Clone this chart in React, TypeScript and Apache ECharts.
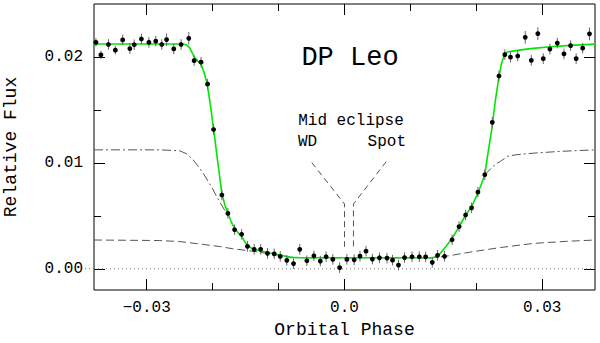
import React, { useEffect, useRef } from "react";
import * as echarts from "echarts";

// Observed light curve (orbital phase, relative flux, 1-sigma error)
const phase = [
  -0.03771, -0.03695, -0.03581, -0.03476, -0.03365, -0.03256, -0.0319, -0.03081, -0.02967, -0.02863,
  -0.02772, -0.02699, -0.0259, -0.02479, -0.02362, -0.02281, -0.02176, -0.02077, -0.01986, -0.0186,
  -0.01769, -0.01667, -0.0156, -0.01472, -0.0137, -0.01272, -0.01168, -0.01066, -0.00975, -0.00875,
  -0.00773, -0.00679, -0.00571, -0.00464, -0.00367, -0.00279, -0.00177, -0.00074, 0.00036, 0.00147,
  0.00235, 0.00326, 0.00423, 0.0053, 0.00645, 0.00729, 0.00819, 0.00911, 0.01025, 0.01135,
  0.01231, 0.01332, 0.01412, 0.01518, 0.01632, 0.01738, 0.01837, 0.01928, 0.02024, 0.02128,
  0.02242, 0.02343, 0.02432, 0.02518, 0.02628, 0.02742, 0.02834, 0.02933, 0.03015, 0.03116,
  0.03228, 0.03329, 0.0343, 0.03514, 0.03613, 0.03716,
];
const flux = [
  0.02138, 0.02019, 0.02118, 0.02064, 0.02161, 0.02079, 0.02115, 0.0217, 0.02137, 0.02149,
  0.02118, 0.02164, 0.02076, 0.02118, 0.02176, 0.01965, 0.01951, 0.01743, 0.01315, 0.00697,
  0.00524, 0.00369, 0.00326, 0.00212, 0.00184, 0.00184, 0.00146, 0.00141, 0.00117, 0.0008,
  0.00049, 0.00184, 0.00076, 0.00123, 0.00073, 0.00114, 0.00089, 0.00011, 0.00089, 0.00085,
  0.0012, 0.00167, 0.00092, 0.00104, 0.00101, 0.00082, 0.00035, 0.00106, 0.00114, 0.00114,
  0.00113, 0.00061, 0.00127, 0.00118, 0.00274, 0.00399, 0.00508, 0.00576, 0.00724, 0.00888,
  0.01383, 0.0182, 0.02022, 0.01998, 0.02009, 0.02185, 0.01968, 0.0222, 0.01984, 0.02074,
  0.02131, 0.02029, 0.02107, 0.01984, 0.02083, 0.02218,
];
const fluxErr = [
  0.0004, 0.0004, 0.0005, 0.0004, 0.0005, 0.0005, 0.0005, 0.0005, 0.0005, 0.0005,
  0.0005, 0.0006, 0.0005, 0.0005, 0.0006, 0.0005, 0.0005, 0.0005, 0.0005, 0.0005,
  0.0005, 0.0005, 0.0005, 0.0005, 0.0005, 0.0005, 0.0005, 0.0005, 0.0005, 0.0005,
  0.0005, 0.0005, 0.0005, 0.0005, 0.0005, 0.0005, 0.0005, 0.0005, 0.0005, 0.0005,
  0.0005, 0.0005, 0.0005, 0.0005, 0.0005, 0.0005, 0.0005, 0.0005, 0.0005, 0.0005,
  0.0005, 0.0005, 0.0005, 0.0005, 0.0005, 0.0005, 0.0005, 0.0005, 0.0005, 0.0005,
  0.0005, 0.0005, 0.0005, 0.0005, 0.0005, 0.0006, 0.0005, 0.0006, 0.0005, 0.0005,
  0.0005, 0.0005, 0.0005, 0.0005, 0.0005, 0.0006,
];

// Total model light curve (green)
const modelPhase = [
  -0.038, -0.02453, -0.02392, -0.02346, -0.02281, -0.02225, -0.02175, -0.02134, -0.02083, -0.02035,
  -0.01982, -0.01921, -0.0186, -0.01814, -0.01769, -0.01723, -0.01673, -0.01617, -0.0156, -0.0151,
  -0.01465, -0.01374, -0.01252, -0.0113, -0.00978, -0.00826, -0.00674, 0.01332, 0.01393, 0.01454,
  0.01545, 0.01632, 0.01738, 0.01839, 0.0193, 0.02027, 0.02077, 0.02128, 0.02184, 0.0224,
  0.0229, 0.02343, 0.02381, 0.02427, 0.02473, 0.02594, 0.02822, 0.03126, 0.0343, 0.038,
];
const modelFlux = [
  0.02123, 0.02123, 0.02112, 0.02083, 0.02003, 0.0196, 0.01932, 0.01861, 0.01747, 0.01549,
  0.01303, 0.01, 0.00707, 0.00603, 0.00524, 0.00451, 0.00385, 0.00342, 0.00309, 0.00253,
  0.00215, 0.00182, 0.00165, 0.00149, 0.0013, 0.00108, 0.00104, 0.00104, 0.00115, 0.00146,
  0.00215, 0.00286, 0.00397, 0.00508, 0.00588, 0.00721, 0.00801, 0.00889, 0.01123, 0.01341,
  0.01596, 0.01814, 0.01937, 0.02026, 0.02047, 0.0206, 0.02079, 0.02097, 0.02109, 0.02121,
];

// White-dwarf component (dash-dot), visible ingress and egress parts
const wdPhase = [
  -0.038, -0.02803, -0.0262, -0.02498, -0.02392, -0.02296, -0.02225, -0.02144, -0.02073, -0.01992,
  -0.01928, -0.01865, -0.01789, null,
  0.02128, 0.02184, 0.02245, 0.02316, 0.02366, 0.02468, 0.02594, 0.02868, 0.03278, 0.038,
];
const wdFlux = [
  0.01123, 0.01123, 0.01118, 0.01114, 0.01085, 0.01028, 0.00972, 0.00903, 0.0083, 0.00745,
  0.00669, 0.00603, 0.00524, null,
  0.00886, 0.00924, 0.00962, 0.00997, 0.01014, 0.01061, 0.01076, 0.01092, 0.01109, 0.01123,
];

// Accretion spot component (dashed)
const spotPhase = [
  -0.038, -0.02803, -0.02498, -0.02194, -0.0189, -0.01693, -0.01465, -0.01252, -0.01054, -0.00826,
  -0.00598, 0.01332, 0.01556, 0.0191, 0.02366, 0.02868, 0.03354, 0.038,
];
const spotFlux = [
  0.00272, 0.00267, 0.00257, 0.00234, 0.0021, 0.00189, 0.00172, 0.00153, 0.00134, 0.00111,
  0.00104, 0.00104, 0.0012, 0.00158, 0.00201, 0.0024, 0.00259, 0.00272,
];

// Mid-eclipse markers
const wdMarkPhase = [-0.00496, 0.0, 0.0];
const wdMarkFlux = [0.01003, 0.00612, 0.00208];
const spotMarkPhase = [0.00633, 0.00136, 0.00136];
const spotMarkFlux = [0.01012, 0.00612, 0.00208];

// Axes
const xMin = -0.038;
const xMax = 0.038;
const yMin = -0.002;
const yMax = 0.025;
const xMajorTicks = [-0.03, 0.0, 0.03];
const xMinorTicks = [-0.02, -0.01, 0.01, 0.02];
const yMajorTicks = [0.0, 0.01, 0.02];
const yMinorTicks = [0.005, 0.015];

const FONT = "'Liberation Mono', 'DejaVu Sans Mono', monospace";

function zip(a: (number | null)[], b: (number | null)[]) {
  return a.map((v, i) => (v === null || b[i] === null ? [null, null] : [v, b[i]]));
}

function fmtX(v: number) {
  if (Math.abs(v) < 1e-9) return "0.0";
  const s = Math.abs(v).toFixed(2);
  return v < 0 ? "\u2212" + s : s;
}

export default function App() {
  const ref = useRef<HTMLDivElement>(null);
  useEffect(() => {
    if (!ref.current) return;
    const chart = echarts.init(ref.current, null, { renderer: "svg" });

    const tickStyle = { color: "#000", width: 1 };
    const mkX = (position: string, ticks: number[], len: number, labels: boolean, extra: any = {}) => ({
      type: "value",
      min: xMin,
      max: xMax,
      position,
      axisLine: { show: false, onZero: false },
      splitLine: { show: false },
      axisTick: { show: true, inside: true, length: len, customValues: ticks, lineStyle: tickStyle },
      axisLabel: labels
        ? { show: true, customValues: ticks, formatter: fmtX, fontFamily: FONT, fontSize: 16, color: "#000", margin: 10 }
        : { show: false },
      ...extra,
    });
    const mkY = (position: string, ticks: number[], len: number, labels: boolean, extra: any = {}) => ({
      type: "value",
      min: yMin,
      max: yMax,
      position,
      axisLine: { show: false, onZero: false },
      splitLine: { show: false },
      axisTick: { show: true, inside: true, length: len, customValues: ticks, lineStyle: tickStyle },
      axisLabel: labels
        ? {
            show: true,
            customValues: ticks,
            formatter: (v: number) => v.toFixed(2),
            fontFamily: FONT,
            fontSize: 16,
            color: "#000",
            margin: 11,
          }
        : { show: false },
      ...extra,
    });

    const points = phase.map((p, i) => [p, flux[i], fluxErr[i]]);

    chart.setOption({
      animation: false,
      backgroundColor: "#fff",
      grid: {
        left: 94,
        right: 5,
        top: 4,
        bottom: 53,
        show: true,
        borderColor: "#000",
        borderWidth: 1,
        backgroundColor: "transparent",
        containLabel: false,
        outerBoundsMode: "none",
      },
      xAxis: [
        mkX("bottom", xMajorTicks, 11, true, {
          name: "Orbital Phase",
          nameLocation: "middle",
          nameGap: 28,
          nameTextStyle: { fontFamily: FONT, fontSize: 18, color: "#000" },
        }),
        mkX("bottom", xMinorTicks, 7, false),
        mkX("top", xMajorTicks, 11, false),
        mkX("top", xMinorTicks, 7, false),
      ],
      yAxis: [
        mkY("left", yMajorTicks, 11, true, {
          name: "Relative Flux",
          nameLocation: "middle",
          nameRotate: 90,
          nameGap: 74,
          nameTextStyle: { fontFamily: FONT, fontSize: 18, color: "#000" },
        }),
        mkY("left", yMinorTicks, 7, false),
        mkY("right", yMajorTicks, 11, false),
        mkY("right", yMinorTicks, 7, false),
      ],
      series: [
        {
          type: "line",
          data: [
            [xMin, 0],
            [xMax, 0],
          ],
          symbol: "none",
          lineStyle: { color: "#777", width: 1, type: [1, 3] },
          z: 1,
        },
        {
          type: "line",
          data: zip(spotPhase, spotFlux),
          symbol: "none",
          lineStyle: { color: "#555", width: 1, type: [8, 4] },
          z: 2,
        },
        {
          type: "line",
          data: zip(wdPhase, wdFlux),
          connectNulls: false,
          symbol: "none",
          lineStyle: { color: "#555", width: 1, type: [9, 3, 2, 3] },
          z: 2,
        },
        {
          type: "line",
          data: zip(wdMarkPhase, wdMarkFlux),
          symbol: "none",
          lineStyle: { color: "#555", width: 1, type: [6, 4] },
          z: 2,
        },
        {
          type: "line",
          data: zip(spotMarkPhase, spotMarkFlux),
          symbol: "none",
          lineStyle: { color: "#555", width: 1, type: [6, 4] },
          z: 2,
        },
        {
          type: "line",
          data: zip(modelPhase, modelFlux),
          symbol: "none",
          lineStyle: { color: "#00e600", width: 1.6 },
          z: 3,
        },
        {
          type: "custom",
          data: points,
          z: 4,
          renderItem: (params: any, api: any) => {
            const x = api.value(0);
            const y = api.value(1);
            const e = api.value(2);
            const c = api.coord([x, y]);
            const hi = api.coord([x, y + e]);
            const lo = api.coord([x, y - e]);
            return {
              type: "group",
              children: [
                {
                  type: "line",
                  shape: { x1: c[0], y1: hi[1], x2: c[0], y2: lo[1] },
                  style: { stroke: "#666", lineWidth: 1 },
                },
                {
                  type: "circle",
                  shape: { cx: c[0], cy: c[1], r: 2.4 },
                  style: { fill: "#000" },
                },
              ],
            };
          },
        },
      ],
      graphic: [
        {
          type: "line",
          shape: { x1: 85, y1: 268.6, x2: 94, y2: 268.6 },
          style: { stroke: "#777", lineWidth: 1, lineDash: [1, 3] },
        },
        {
          type: "text",
          x: 350,
          y: 57.5,
          style: { text: "DP Leo", fontFamily: FONT, fontSize: 27, fill: "#000", align: "center", verticalAlign: "middle" },
        },
        {
          type: "text",
          x: 351,
          y: 121,
          style: { text: "Mid eclipse", fontFamily: FONT, fontSize: 16, fill: "#000", align: "center", verticalAlign: "middle" },
        },
        {
          type: "text",
          x: 298,
          y: 142,
          style: { text: "WD", fontFamily: FONT, fontSize: 16, fill: "#000", align: "left", verticalAlign: "middle" },
        },
        {
          type: "text",
          x: 406,
          y: 142,
          style: { text: "Spot", fontFamily: FONT, fontSize: 16, fill: "#000", align: "right", verticalAlign: "middle" },
        },
      ],
    });
    return () => chart.dispose();
  }, []);
  return (
    <div
      ref={ref}
      style={{ position: "fixed", left: 0, top: 0, width: 600, height: 343, background: "#fff" }}
    />
  );
}
